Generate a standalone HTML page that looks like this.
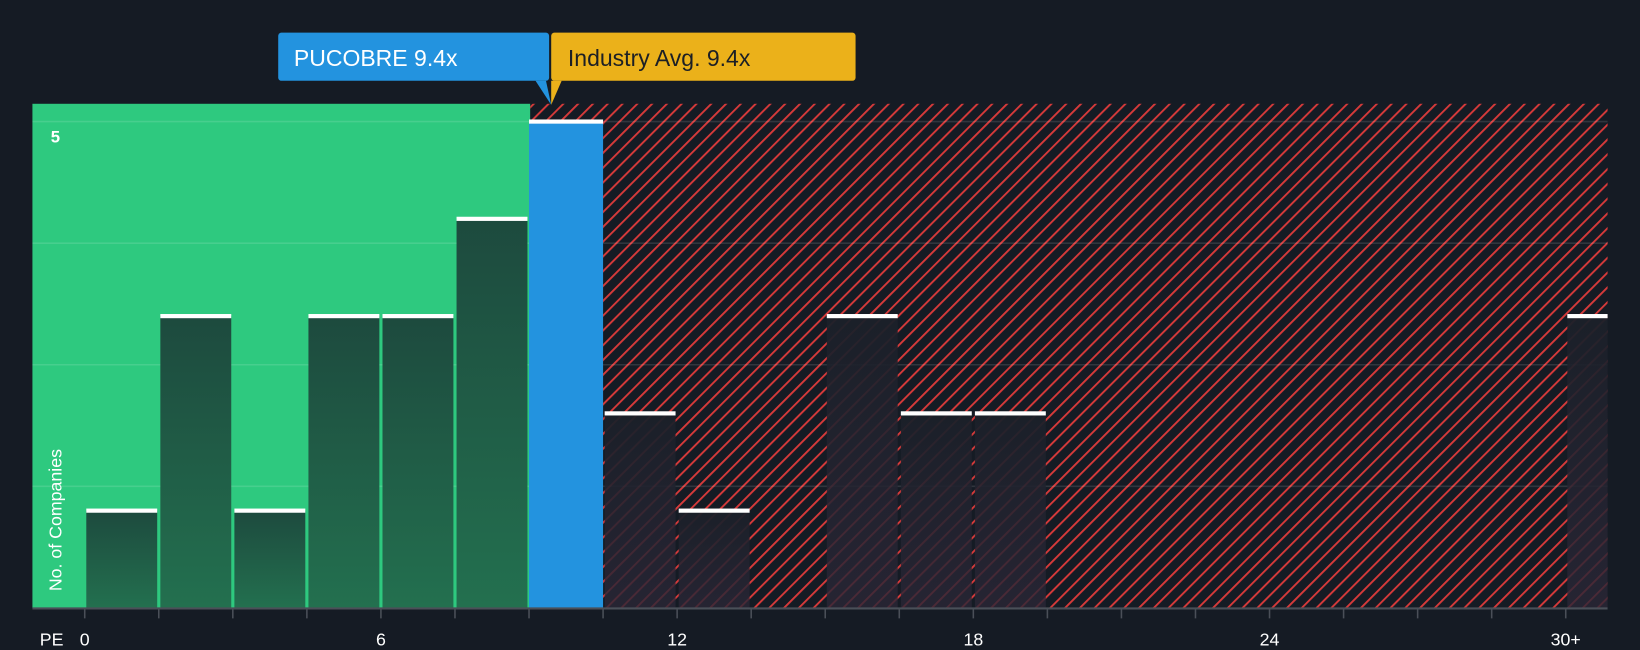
<!DOCTYPE html>
<html><head><meta charset="utf-8"><style>
html,body{margin:0;padding:0;background:#151b24;}
svg{display:block;font-family:"Liberation Sans",sans-serif;}
</style></head><body>
<svg width="1640" height="650" viewBox="0 0 1568 621">
<defs>
<pattern id="hatch" patternUnits="userSpaceOnUse" width="10" height="10" patternTransform="rotate(45)">
<rect width="10" height="10" fill="#151b24"/><rect width="1.8" height="10" fill="#d83a3a"/>
</pattern>
<linearGradient id="gb" x1="0" y1="0" x2="0" y2="1"><stop offset="0" stop-color="#1d4a3e"/><stop offset="1" stop-color="#23704f"/></linearGradient>
<linearGradient id="rb" x1="0" y1="0" x2="0" y2="1"><stop offset="0" stop-color="#1b2029" stop-opacity="0.95"/><stop offset="1" stop-color="#2a2636" stop-opacity="0.8"/></linearGradient>
<clipPath id="plotclip"><rect x="31" y="90" width="1506" height="492"/></clipPath>
</defs>
<rect x="31" y="99" width="476" height="482" fill="#2ec97f"/>
<rect x="507" y="99" width="1030" height="482" fill="url(#hatch)"/>
<g id="grid"></g>
<g id="bars" clip-path="url(#plotclip)"></g>
<line x1="31" y1="581.5" x2="1537" y2="581.5" stroke="#4a4f58" stroke-width="2"/>
<g id="ticks"></g>
<text x="38" y="617" fill="#fff" font-size="17">PE</text>
<text x="53" y="136" fill="#fff" font-size="16" font-weight="bold" text-anchor="middle">5</text>
<text transform="translate(59,565) rotate(-90)" fill="#fff" font-size="17">No. of Companies</text>
<g>
<rect x="266" y="31" width="259" height="46" rx="3" fill="#2393df"/>
<polygon points="512,77 522,77 527,100" fill="#2393df"/>
<text x="281" y="63" fill="#fff" font-size="22">PUCOBRE 9.4x</text>
</g>
<g>
<rect x="527" y="31" width="291" height="46" rx="3" fill="#ebb11a"/>
<polygon points="527,77 537,77 527,100" fill="#ebb11a"/>
<text x="543" y="63" fill="#1c1f25" font-size="22">Industry Avg. 9.4x</text>
</g>
</svg>
<script>
const binStarts=[0,1.5,3,4.5,6,7.5,9,10.5,12,13.5,15,16.5,18,19.5,21,22.5,24,25.5,27,28.5,30];
const counts=[1,3,1,3,3,4,5,2,1,0,3,2,2,0,0,0,0,0,0,0,3];
const tickVals=[0,6,12,18,24,30];
const tickLabels=["0","6","12","18","24","30+"];
const gridVals=[1.25,2.5,3.75,5];
const companyPE=9.4;
const NS="http://www.w3.org/2000/svg";
const x=v=>81+v*47.2;
const y=v=>581-v*93;
function mk(t,a){const e=document.createElementNS(NS,t);for(const k in a)e.setAttribute(k,a[k]);return e;}
const g=document.getElementById('grid'),b=document.getElementById('bars'),tk=document.getElementById('ticks');
gridVals.forEach(v=>{const l=mk('line',{x1:31,x2:1537,y1:y(v),y2:y(v),stroke:'rgba(255,255,255,0.12)','stroke-width':1.5});


g.appendChild(l);});
binStarts.forEach((s,i)=>{const c=counts[i];if(!c)return;
const x0=x(s)+1.5,w=x(s+1.5)-x(s)-3;
const isCo=companyPE>=s&&companyPE<s+1.5;
const fill=isCo?'#2393df':(s+1.5<=9?'url(#gb)':'url(#rb)');
const bx=isCo?x(s):x0,bw=isCo?x(s+1.5)-x(s):w;
const r=mk('rect',{x:bx,y:y(c),width:bw,height:581-y(c),fill:fill});


b.appendChild(r);
const cap=mk('rect',{x:bx,y:y(c)-2,width:bw,height:4,fill:'#fff'});


b.appendChild(cap);});
binStarts.forEach(s=>{const t=mk('line',{x1:x(s),x2:x(s),y1:582,y2:591,stroke:'#4a4f58','stroke-width':1.5});


tk.appendChild(t);});
tickVals.forEach((v,i)=>{const t=mk('text',{x:x(v),y:617,fill:'#fff','font-size':17,'text-anchor':'middle'});
t.textContent=tickLabels[i];


tk.appendChild(t);});
</script>
</body></html>
